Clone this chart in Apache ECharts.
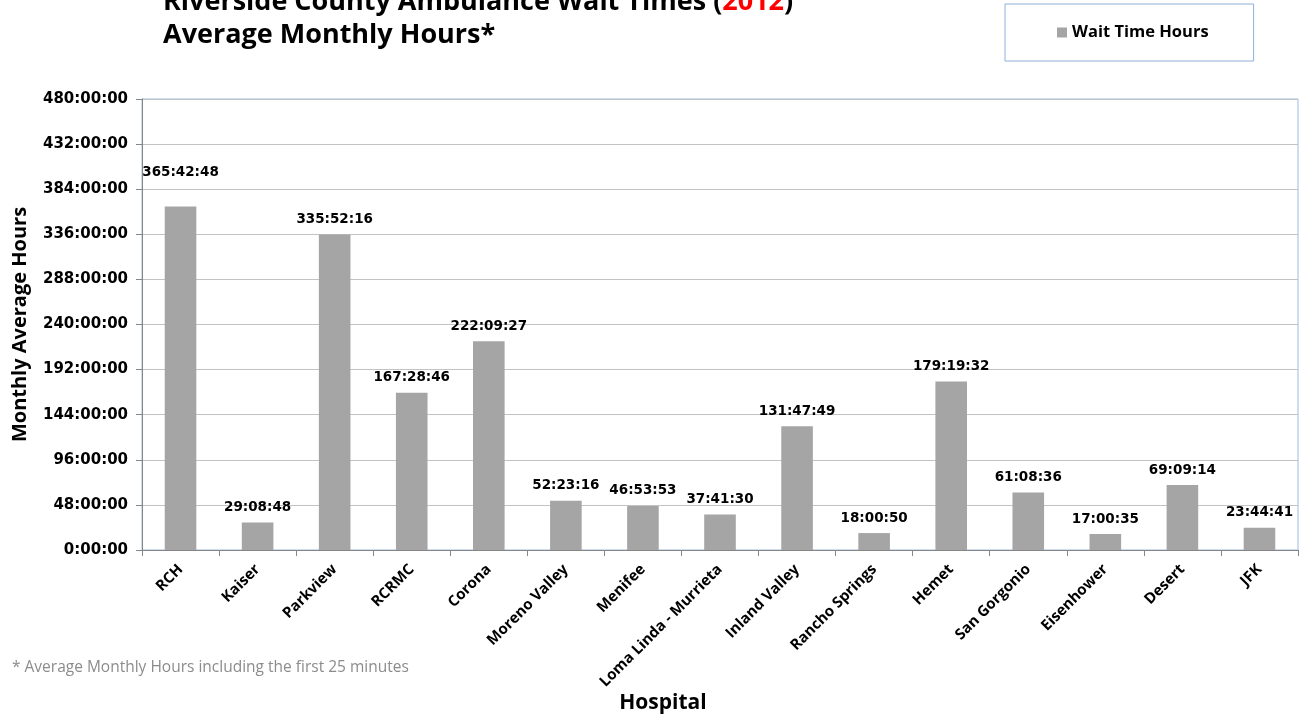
<!DOCTYPE html>
<html>
<head>
<meta charset="utf-8">
<script src="https://cdn.jsdelivr.net/npm/echarts@6/dist/echarts.min.js"></script>
<style>html,body{margin:0;padding:0;background:#fff;}#c{width:1301px;height:715px;}</style>
</head>
<body>
<div id="c"></div>
<script>
const categories = ["RCH","Kaiser","Parkview","RCRMC","Corona","Moreno Valley","Menifee","Loma Linda - Murrieta","Inland Valley","Rancho Springs","Hemet","San Gorgonio","Eisenhower","Desert","JFK"];
const waitTimes = ["365:42:48","29:08:48","335:52:16","167:28:46","222:09:27","52:23:16","46:53:53","37:41:30","131:47:49","18:00:50","179:19:32","61:08:36","17:00:35","69:09:14","23:44:41"];
const yTickHours = [0,48,96,144,192,240,288,336,384,432,480];

function toHours(s){const p=s.split(':').map(Number);return p[0]+p[1]/60+p[2]/3600;}
const values = waitTimes.map((t,i)=>({value:toHours(t),label:{distance: i===0?27:8}}));

const F = "'Open Sans', 'Noto Sans', sans-serif";
const D = "'DejaVu Sans', Verdana, sans-serif";
const chart = echarts.init(document.getElementById('c'));
chart.setOption({
  animation:false,
  backgroundColor:'#fff',
  title:{
    left:158, top:-19,
    text:'{a|Riverside County Ambulance Wait Times (}{r|2012}{a|)}\n{a|Average Monthly Hours*}',
    textStyle:{rich:{
      a:{fontFamily:F,fontWeight:'bold',fontSize:27,color:'#000',lineHeight:33},
      r:{fontFamily:F,fontWeight:'bold',fontSize:27,color:'#ff0000',lineHeight:33}
    }}
  },
  legend:{
    left:1005, top:4,
    padding:[18,45,18,52],
    borderColor:'#8fb0da', borderWidth:1,
    itemWidth:10,itemHeight:10, itemGap:6,
    icon:'rect',
    textStyle:{fontFamily:F,fontWeight:'bold',fontSize:16.5,color:'#000',lineHeight:21},
    data:['Wait Time Hours']
  },
  graphic:[{
    type:'text', left:12, top:660,
    style:{text:'* Average Monthly Hours including the first 25 minutes',fill:'#8c8c8c',font:"15.5px 'Open Sans', sans-serif"}
  },{
    type:'text', x:663, y:703,
    style:{text:'Hospital',fill:'#000',font:"bold 21px 'Open Sans', sans-serif",align:'center',verticalAlign:'middle'}
  }],
  grid:{left:142,right:3,top:99,bottom:165,show:true,borderColor:'#9dbbe2',borderWidth:1},
  xAxis:{
    type:'category', data:categories,
    axisLine:{lineStyle:{color:'#868686'}},
    axisTick:{show:true,alignWithLabel:false,length:6,lineStyle:{color:'#868686'}},
    axisLabel:{rotate:45,interval:0,fontFamily:F,fontWeight:'bold',fontSize:15,color:'#000',margin:17}
  },
  yAxis:{
    type:'value', min:0, max:480, interval:48,
    name:'Monthly Average Hours', nameLocation:'middle', nameGap:112, nameRotate:90,
    nameTextStyle:{fontFamily:F,fontWeight:'bold',fontSize:20,color:'#000'},
    axisLine:{show:true,lineStyle:{color:'#868686'}},
    axisTick:{show:true,length:6,lineStyle:{color:'#868686'}},
    splitLine:{lineStyle:{color:'#c3c3c3'}},
    axisLabel:{fontFamily:D,fontWeight:'bold',fontSize:15,color:'#000',margin:14,
      formatter:v=> yTickHours.includes(v)? v+':00:00' : ''}
  },
  series:[{
    name:'Wait Time Hours', type:'bar', data:values, barWidth:'41%',
    itemStyle:{color:'#a5a5a5'},
    label:{show:true,position:'top',fontFamily:D,fontWeight:'bold',fontSize:13.5,color:'#000',
      formatter:p=>waitTimes[p.dataIndex]}
  }]
});
</script>
</body>
</html>
